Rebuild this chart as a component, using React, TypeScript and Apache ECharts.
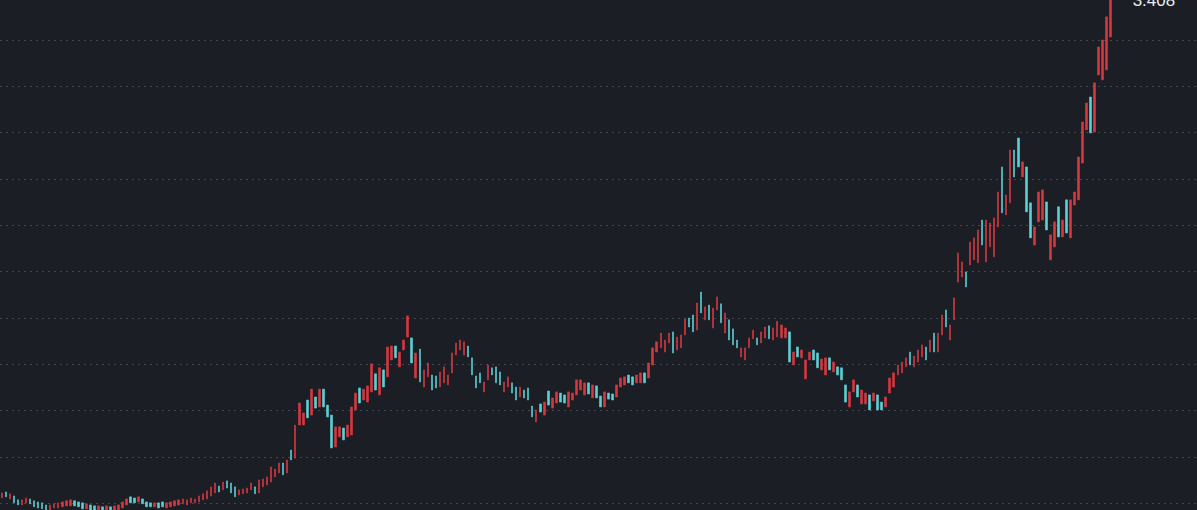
import { useEffect, useRef } from "react";
import * as echarts from "echarts";

// Daily candles, oldest first: opening and closing prices.
const opens = [
  1.223, 1.249, 1.219, 1.232, 1.215, 1.193, 1.202, 1.219, 1.211, 1.206,
  1.202, 1.193, 1.171, 1.180, 1.180, 1.185, 1.189, 1.189, 1.211, 1.206,
  1.202, 1.176, 1.193, 1.189, 1.171, 1.185, 1.167, 1.185, 1.167, 1.171,
  1.180, 1.193, 1.228, 1.223, 1.206, 1.219, 1.206, 1.202, 1.185, 1.202,
  1.206, 1.180, 1.185, 1.189, 1.193, 1.198, 1.193, 1.202, 1.202, 1.206,
  1.215, 1.219, 1.232, 1.245, 1.275, 1.258, 1.297, 1.288, 1.271, 1.236,
  1.241, 1.245, 1.258, 1.271, 1.245, 1.271, 1.279, 1.292, 1.314, 1.331,
  1.374, 1.331, 1.430, 1.395, 1.538, 1.538, 1.646, 1.581, 1.659, 1.616,
  1.693, 1.624, 1.581, 1.443, 1.487, 1.525, 1.487, 1.495, 1.603, 1.698,
  1.646, 1.637, 1.681, 1.759, 1.668, 1.776, 1.746, 1.819, 1.879, 1.789,
  1.862, 1.918, 1.914, 1.741, 1.866, 1.702, 1.746, 1.754, 1.750, 1.702,
  1.720, 1.711, 1.763, 1.840, 1.862, 1.840, 1.879, 1.828, 1.750, 1.763,
  1.681, 1.733, 1.785, 1.789, 1.767, 1.681, 1.702, 1.720, 1.702, 1.659,
  1.689, 1.698, 1.620, 1.551, 1.629, 1.581, 1.685, 1.611, 1.633, 1.676,
  1.668, 1.616, 1.646, 1.668, 1.689, 1.668, 1.720, 1.655, 1.707, 1.663,
  1.616, 1.676, 1.672, 1.659, 1.702, 1.711, 1.754, 1.746, 1.720, 1.720,
  1.763, 1.741, 1.797, 1.853, 1.871, 1.853, 1.892, 1.940, 1.862, 1.871,
  1.927, 2.000, 2.013, 1.948, 2.112, 1.992, 2.056, 1.957, 2.035, 2.061,
  1.935, 1.992, 1.953, 1.905, 1.832, 1.819, 1.871, 1.910, 1.914, 1.892,
  1.914, 1.966, 1.905, 1.918, 1.914, 1.914, 1.940, 1.797, 1.875, 1.828,
  1.737, 1.819, 1.862, 1.849, 1.776, 1.754, 1.828, 1.767, 1.789, 1.785,
  1.711, 1.616, 1.681, 1.711, 1.629, 1.629, 1.668, 1.642, 1.668, 1.637,
  1.616, 1.676, 1.702, 1.754, 1.763, 1.789, 1.853, 1.789, 1.810, 1.832,
  1.875, 1.853, 1.935, 1.853, 1.927, 2.035, 1.905, 1.992, 2.155, 2.177,
  2.199, 2.229, 2.251, 2.238, 2.423, 2.242, 2.307, 2.264, 2.393, 2.652,
  2.445, 2.497, 2.725, 2.777, 2.609, 2.652, 2.497, 2.315, 2.415, 2.423,
  2.501, 2.251, 2.307, 2.480, 2.350, 2.510, 2.346, 2.488, 2.510, 2.669,
  2.812, 2.954, 2.803, 3.049, 3.028, 3.071, 3.213,
];

const closes = [
  1.245, 1.228, 1.241, 1.202, 1.193, 1.215, 1.223, 1.198, 1.185, 1.180,
  1.176, 1.171, 1.193, 1.198, 1.202, 1.206, 1.211, 1.215, 1.189, 1.185,
  1.176, 1.198, 1.171, 1.167, 1.189, 1.163, 1.189, 1.163, 1.189, 1.193,
  1.206, 1.219, 1.202, 1.202, 1.228, 1.198, 1.185, 1.185, 1.202, 1.180,
  1.185, 1.202, 1.206, 1.211, 1.215, 1.219, 1.215, 1.223, 1.219, 1.232,
  1.241, 1.254, 1.271, 1.288, 1.249, 1.292, 1.266, 1.245, 1.228, 1.258,
  1.262, 1.266, 1.288, 1.241, 1.301, 1.305, 1.314, 1.357, 1.348, 1.374,
  1.323, 1.387, 1.387, 1.538, 1.633, 1.590, 1.569, 1.693, 1.611, 1.693,
  1.616, 1.573, 1.439, 1.530, 1.530, 1.474, 1.538, 1.616, 1.676, 1.633,
  1.693, 1.707, 1.802, 1.689, 1.785, 1.702, 1.875, 1.879, 1.828, 1.853,
  1.905, 2.009, 1.806, 1.849, 1.724, 1.776, 1.806, 1.689, 1.698, 1.767,
  1.789, 1.754, 1.849, 1.892, 1.905, 1.897, 1.832, 1.754, 1.698, 1.720,
  1.724, 1.797, 1.754, 1.720, 1.711, 1.724, 1.746, 1.676, 1.646, 1.702,
  1.655, 1.646, 1.573, 1.603, 1.594, 1.637, 1.624, 1.655, 1.681, 1.637,
  1.633, 1.681, 1.676, 1.733, 1.733, 1.720, 1.672, 1.711, 1.655, 1.616,
  1.681, 1.650, 1.646, 1.711, 1.741, 1.746, 1.720, 1.711, 1.754, 1.763,
  1.720, 1.806, 1.871, 1.897, 1.935, 1.905, 1.935, 1.849, 1.918, 1.927,
  1.996, 1.961, 1.940, 2.065, 2.022, 2.048, 1.992, 2.043, 2.091, 1.979,
  2.022, 1.905, 1.884, 1.871, 1.871, 1.871, 1.914, 1.948, 1.884, 1.940,
  1.961, 1.910, 1.957, 1.986, 1.970, 1.957, 1.810, 1.853, 1.832, 1.862,
  1.819, 1.853, 1.819, 1.785, 1.823, 1.828, 1.776, 1.810, 1.754, 1.733,
  1.637, 1.681, 1.733, 1.659, 1.689, 1.676, 1.603, 1.676, 1.603, 1.603,
  1.659, 1.741, 1.763, 1.797, 1.810, 1.828, 1.797, 1.836, 1.862, 1.884,
  1.819, 1.905, 1.853, 1.935, 2.013, 1.961, 1.970, 2.087, 2.281, 2.242,
  2.134, 2.328, 2.346, 2.380, 2.315, 2.423, 2.410, 2.432, 2.544, 2.454,
  2.531, 2.725, 2.609, 2.652, 2.674, 2.458, 2.346, 2.393, 2.544, 2.553,
  2.380, 2.359, 2.415, 2.350, 2.423, 2.367, 2.510, 2.544, 2.695, 2.846,
  2.928, 2.799, 3.015, 3.170, 3.200, 3.300, 3.408,
];

// Empty sessions kept on the right of the last candle, for the price label.
const rightPadSessions = 21;

const UP = "#d5383f";
const DOWN = "#5dd0d4";
const BG = "#1c1e26";

export default function App() {
  const ref = useRef<HTMLDivElement>(null);

  useEffect(() => {
    document.body.style.margin = "0";
    document.body.style.background = BG;
    const chart = echarts.init(ref.current!, null, { renderer: "svg" });

    const days = opens.map((_, i) => String(i + 1));
    // ECharts candlestick order: [open, close, lowest, highest]
    const candles = opens.map((o, i) => {
      const c = closes[i];
      return [o, c, Math.min(o, c), Math.max(o, c)];
    });
    const last = opens.length - 1;

    chart.setOption({
      animation: false,
      backgroundColor: BG,
      grid: {
        left: 0,
        right: 0,
        top: -52.66,
        height: 602.3,
        outerBoundsMode: "none",
        containLabel: false,
      },
      xAxis: {
        type: "category",
        data: days,
        boundaryGap: true,
        max: last + rightPadSessions,
        show: false,
      },
      yAxis: {
        type: "value",
        min: 1.0,
        max: 3.6,
        interval: 0.2,
        axisLine: { show: false },
        axisTick: { show: false },
        axisLabel: { show: false },
        splitLine: {
          show: true,
          lineStyle: { color: "#44474f", width: 1, type: [2, 4] },
        },
      },
      series: [
        {
          type: "candlestick",
          data: candles,
          barWidth: 2,
          clip: false,
          itemStyle: {
            color: UP,
            color0: DOWN,
            borderColor: UP,
            borderColor0: DOWN,
            borderWidth: 0.6,
          },
          markPoint: {
            symbol: "circle",
            symbolSize: 0,
            data: [{ coord: [last, closes[last]], value: closes[last] }],
            label: {
              show: true,
              position: "right",
              offset: [17, 9],
              color: "#ececec",
              fontSize: 17,
              fontFamily: "Liberation Sans, Arial, sans-serif",
              formatter: (p: any) => Number(p.value).toFixed(3),
            },
          },
        },
      ],
    });

    return () => chart.dispose();
  }, []);

  return (
    <div
      ref={ref}
      style={{ width: 1197, height: 510, background: BG }}
    />
  );
}
